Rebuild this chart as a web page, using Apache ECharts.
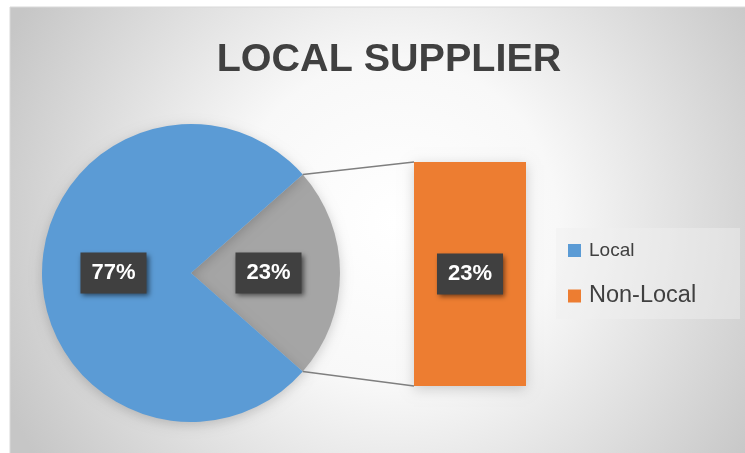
<!DOCTYPE html>
<html>
<head>
<meta charset="utf-8">
<script src="https://cdn.jsdelivr.net/npm/echarts@6/dist/echarts.min.js"></script>
<style>
html,body{margin:0;padding:0;background:#ffffff;}
#chart{width:745px;height:453px;}
</style>
</head>
<body>
<div id="chart"></div>
<script>
// ---- data ----
var titleText = 'LOCAL SUPPLIER';
var pieCategories = ['Non-Local', 'Local'];
var pieValues = [23, 77];
var barCategories = ['Non-Local'];
var barValues = [23];
var legendNames = ['Local', 'Non-Local'];

// ---- layout / style ----
var PIE_CX = 191, PIE_CY = 273, PIE_R = 149;
var GRID_L = 414, GRID_T = 162, GRID_W = 112, GRID_H = 224;
var BLUE = '#5B9BD5', ORANGE = '#ED7D31', GRAY = '#A5A5A5';

var total = pieValues.reduce(function(a,b){return a+b;},0);
var halfAngle = 360 * pieValues[0] / total / 2;

var labelBox = {
  show: true,
  color: '#ffffff',
  fontFamily: 'Liberation Sans, Arial, sans-serif',
  fontWeight: 'bold',
  fontSize: 22,
  lineHeight: 22,
  backgroundColor: '#404040',
  padding: [10, 11, 9, 11],
  shadowColor: 'rgba(0,0,0,0.55)',
  shadowBlur: 5,
  shadowOffsetX: 2,
  shadowOffsetY: 2,
  formatter: function(p){ return p.value + '%'; }
};

var chart = echarts.init(document.getElementById('chart'), null, {renderer:'canvas'});

var option = {
  animation: false,
  backgroundColor: '#ffffff',
  title: {
    text: titleText,
    left: 389,
    top: 40,
    textAlign: 'center',
    padding: 0,
    textStyle: {
      fontFamily: 'Liberation Sans, Arial, sans-serif',
      fontWeight: 'bold',
      fontSize: 39.5,
      lineHeight: 40,
      color: '#404040'
    }
  },
  legend: [
    {
      orient: 'vertical', left: 568, top: 241, padding: 0,
      itemWidth: 13, itemHeight: 13, icon: 'rect', selectedMode: false,
      data: [{name: legendNames[0], itemStyle: {color: BLUE}}],
      textStyle: {fontFamily: 'Liberation Sans, Arial, sans-serif', fontSize: 19, lineHeight: 19, color: '#404040', padding: [0,0,0,3]}
    },
    {
      orient: 'vertical', left: 568, top: 284, padding: 0,
      itemWidth: 13, itemHeight: 13, icon: 'rect', selectedMode: false,
      data: [{name: legendNames[1], itemStyle: {color: ORANGE}}],
      textStyle: {fontFamily: 'Liberation Sans, Arial, sans-serif', fontSize: 23.5, lineHeight: 24, color: '#404040', padding: [0,0,0,3]}
    }
  ],
  grid: {left: GRID_L, top: GRID_T, width: GRID_W, height: GRID_H, containLabel: false},
  xAxis: {type: 'category', data: barCategories, show: false, boundaryGap: true},
  yAxis: {type: 'value', min: 0, max: barValues[0], show: false},
  graphic: [
    {
      type: 'rect', z: -10, silent: true,
      shape: {x: 10, y: 7, width: 740, height: 450},
      style: {
        fill: {
          type: 'radial', x: 0.52, y: 0.48, r: 0.95,
          colorStops: [
            {offset: 0, color: '#ffffff'},
            {offset: 0.38, color: '#f8f8f8'},
            {offset: 1, color: '#c6c6c6'}
          ]
        },
        stroke: '#d9d9d9', lineWidth: 1
      }
    },
    {
      type: 'rect', z: -5, silent: true,
      shape: {x: 556, y: 228, width: 184, height: 91},
      style: {fill: 'rgba(240,240,240,0.45)'}
    }
  ],
  series: [
    {
      type: 'pie',
      name: 'pie',
      center: [PIE_CX, PIE_CY],
      radius: [0, PIE_R],
      startAngle: halfAngle,
      clockwise: true,
      avoidLabelOverlap: false,
      silent: true,
      label: Object.assign({position: 'inside'}, labelBox),
      labelLine: {show: false},
      itemStyle: {shadowColor: 'rgba(0,0,0,0.18)', shadowBlur: 12, shadowOffsetY: 3},
      data: pieCategories.map(function(n, i){
        return {name: n, value: pieValues[i], itemStyle: {color: i === 0 ? GRAY : BLUE}};
      })
    },
    {
      type: 'bar',
      name: 'Non-Local',
      barWidth: '100%',
      silent: true,
      itemStyle: {color: ORANGE, shadowColor: 'rgba(0,0,0,0.18)', shadowBlur: 12, shadowOffsetY: 3},
      label: Object.assign({position: 'inside'}, labelBox),
      data: barValues
    }
  ]
};
chart.setOption(option);

// connector lines from pie slice edges to bar corners
var a = halfAngle * Math.PI / 180;
var pTop = [PIE_CX + PIE_R * Math.cos(a), PIE_CY - PIE_R * Math.sin(a)];
var pBot = [PIE_CX + PIE_R * Math.cos(a), PIE_CY + PIE_R * Math.sin(a)];
var barTop = chart.convertToPixel({gridIndex: 0}, [0, barValues[0]]);
var barBot = chart.convertToPixel({gridIndex: 0}, [0, 0]);
var barLeft = barTop[0] - GRID_W / 2;
var g = option.graphic.slice();
g.push({type: 'line', z: 5, silent: true, shape: {x1: pTop[0], y1: pTop[1], x2: barLeft, y2: barTop[1]}, style: {stroke: '#7f7f7f', lineWidth: 1.5}});
g.push({type: 'line', z: 5, silent: true, shape: {x1: pBot[0], y1: pBot[1], x2: barLeft, y2: barBot[1]}, style: {stroke: '#7f7f7f', lineWidth: 1.5}});
chart.setOption({graphic: g});
</script>
</body>
</html>
